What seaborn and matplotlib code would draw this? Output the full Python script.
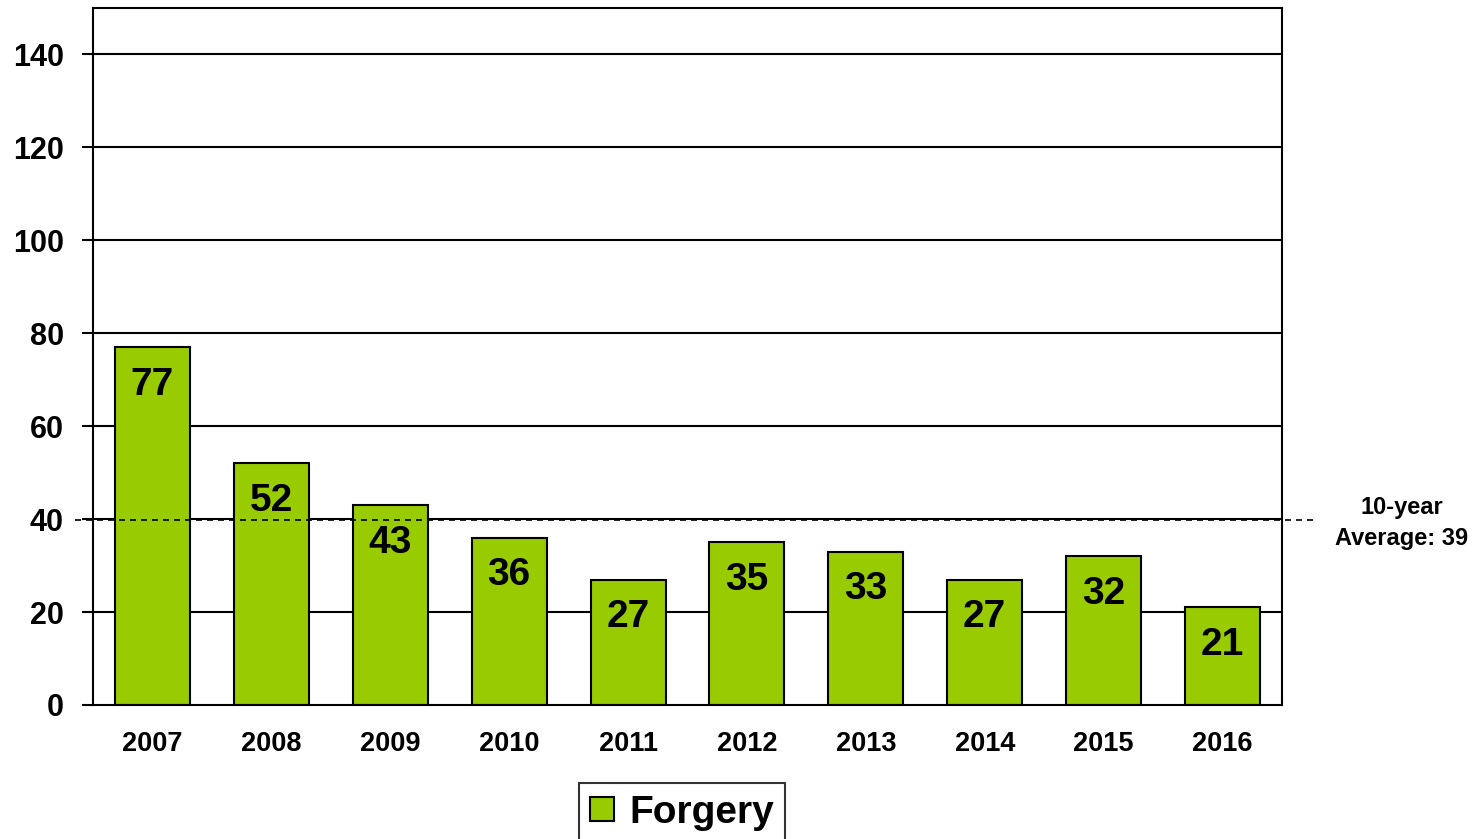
import matplotlib
matplotlib.use("Agg")
import matplotlib.pyplot as plt
import matplotlib.transforms as mtransforms
from matplotlib.patches import Patch
import seaborn as sns
import pandas as pd
import numpy as np

years = ["2007", "2008", "2009", "2010", "2011", "2012", "2013", "2014", "2015", "2016"]
forgery = [77, 52, 43, 36, 27, 35, 33, 27, 32, 21]
series_name = "Forgery"
avg_line_value = 39.9
avg_label = "10-year\nAverage: 39"
yticks = [0, 20, 40, 60, 80, 100, 120, 140]

sns.set_style("white")
plt.rcParams["font.family"] = ["Liberation Sans", "DejaVu Sans"]
plt.rcParams["font.weight"] = "bold"
plt.rcParams["text.color"] = "black"
plt.rcParams["xtick.color"] = "black"
plt.rcParams["ytick.color"] = "black"
plt.rcParams["xtick.labelcolor"] = "black"
plt.rcParams["ytick.labelcolor"] = "black"

df = pd.DataFrame({"year": years, "value": forgery})

fig = plt.figure(figsize=(14.78, 8.39), dpi=100)
ax = fig.add_axes([93 / 1478, 1 - 705 / 839, (1282 - 93) / 1478, (705 - 8) / 839])

green = "#99CC00"
sns.barplot(data=df, x="year", y="value", color=green, edgecolor="black",
            linewidth=1.5, width=0.63, saturation=1, ax=ax, zorder=2)

ax.set_xlim(-0.5, len(years) - 0.5)
ax.set_ylim(0, 150)
ax.set_yticks(yticks)
ax.set_yticklabels([str(t) for t in yticks], fontsize=22, fontweight="bold", color="black")
ax.set_xticks(range(len(years)))
ax.set_xticklabels(years, fontsize=19.5, fontweight="bold", color="black")
ax.set_xticks(np.arange(-0.5, len(years) + 0.5, 1), minor=True)
ax.tick_params(axis="x", which="major", length=0, pad=18.5)
ax.tick_params(axis="x", which="minor", length=8, width=1.5, color="black", direction="out")
ax.tick_params(axis="y", which="major", length=8, width=1.5, color="black", direction="out", pad=13, left=True)
ax.set_xlabel("")
ax.set_ylabel("")

for y in yticks[1:]:
    ax.axhline(y, color="black", linewidth=1.5, zorder=1)

for s in ax.spines.values():
    s.set_visible(True)
    s.set_color("black")
    s.set_linewidth(1.5)

for i, v in enumerate(forgery):
    ax.annotate(str(v), xy=(i, v), xytext=(0, -14), textcoords="offset points",
                ha="center", va="top", fontsize=28, fontweight="bold", color="black", zorder=4)

trans = mtransforms.blended_transform_factory(ax.transAxes, ax.transData)
ax.plot([-0.0151, 1.0303], [avg_line_value, avg_line_value], transform=trans,
        color="black", linewidth=1.2, dashes=(3.6, 3.0), clip_on=False, zorder=3)
ax.annotate(avg_label, xy=(1.1009, avg_line_value), xycoords=trans,
            xytext=(0, -2.5), textcoords="offset points", ha="center", va="center",
            fontsize=17, fontweight="bold", color="black", linespacing=1.45,
            annotation_clip=False)

leg = fig.legend(handles=[Patch(facecolor=green, edgecolor="black", linewidth=1.5)],
                 labels=[series_name], loc="upper center",
                 bbox_to_anchor=(682 / 1478, 1 - 783 / 839),
                 prop={"size": 28, "weight": "bold"}, frameon=True, fancybox=False,
                 handlelength=0.6, handleheight=0.6, handletextpad=0.4,
                 borderpad=0.3, borderaxespad=0)
for t in leg.get_texts():
    t.set_color("black")
leg.get_frame().set_edgecolor("black")
leg.get_frame().set_linewidth(1.5)

fig.savefig("out.png", dpi=100)
